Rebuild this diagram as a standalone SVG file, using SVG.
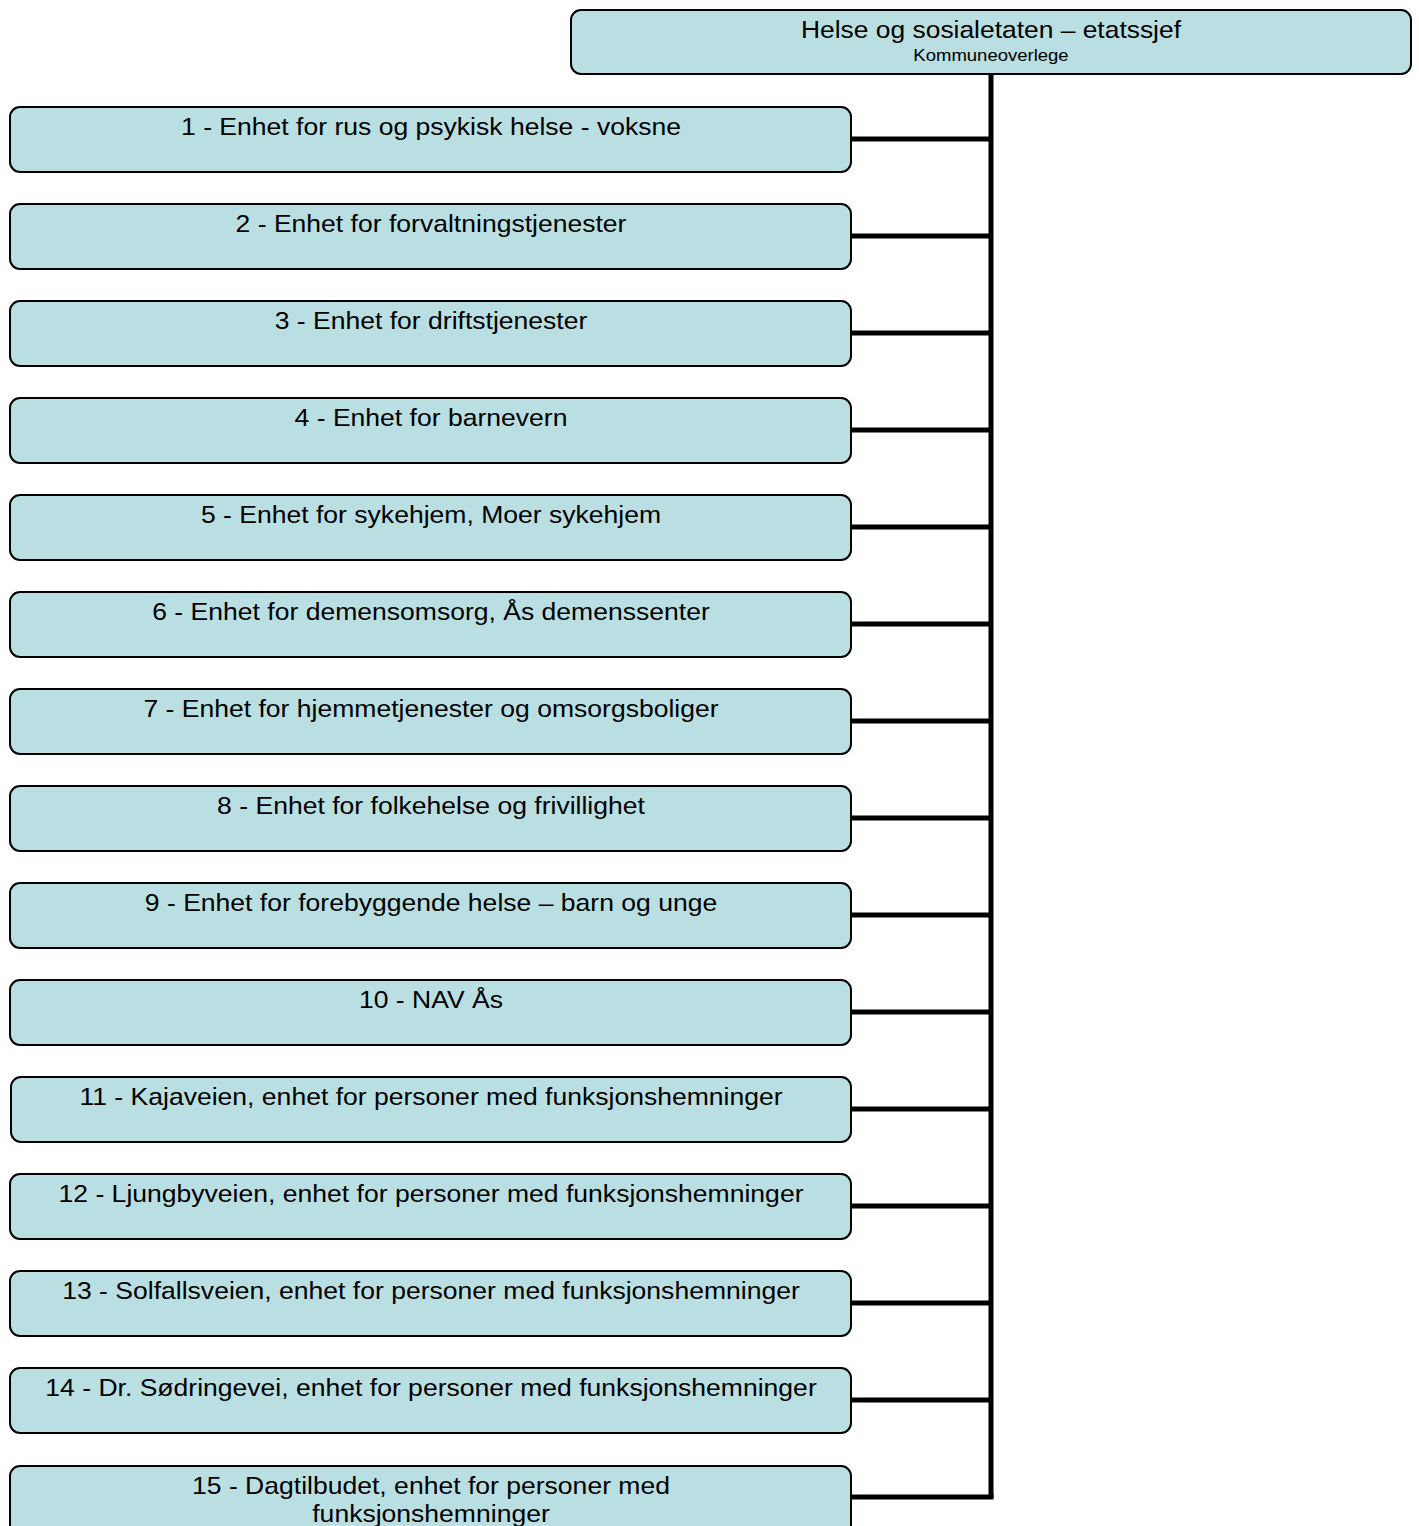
<svg xmlns="http://www.w3.org/2000/svg" width="1419" height="1526" viewBox="0 0 1419 1526">
<style>
.box{fill:#BADFE2;stroke:#000;stroke-width:2}
.t{font-family:"Liberation Sans",Arial,sans-serif;font-size:24px;fill:#000;text-anchor:middle}
.s{font-family:"Liberation Sans",Arial,sans-serif;font-size:16px;fill:#000;text-anchor:middle}
.c{fill:none;stroke:#000;stroke-width:5}
</style>
<rect width="1419" height="1526" fill="#fff"/>
<g id="connectors">
<path class="c" d="M991 75V1498"/>
<path class="c" d="M851 139H991M851 236H991M851 333H991M851 430H991M851 527H991M851 624H991M851 721H991M851 818H991M851 915H991M851 1012H991M851 1109H991M851 1206H991M851 1303H991M851 1400H991M851 1497H993.5"/>
</g>
<g id="top"><rect class="box" x="571" y="10" width="840" height="64" rx="10"/><g transform="translate(991 0) scale(1.1 1)"><text class="t" x="0" y="38">Helse og sosialetaten – etatssjef</text></g><g transform="translate(991 0) scale(1.157 1)"><text class="s" x="0" y="61">Kommuneoverlege</text></g></g>
<g id="n1"><rect class="box" x="10" y="107" width="841" height="65" rx="10"/><g transform="translate(431 0) scale(1.106 1)"><text class="t" x="0" y="135">1 - Enhet for rus og psykisk helse - voksne</text></g></g>
<g id="n2"><rect class="box" x="10" y="204" width="841" height="65" rx="10"/><g transform="translate(431 0) scale(1.106 1)"><text class="t" x="0" y="232">2 - Enhet for forvaltningstjenester</text></g></g>
<g id="n3"><rect class="box" x="10" y="301" width="841" height="65" rx="10"/><g transform="translate(431 0) scale(1.106 1)"><text class="t" x="0" y="329">3 - Enhet for driftstjenester</text></g></g>
<g id="n4"><rect class="box" x="10" y="398" width="841" height="65" rx="10"/><g transform="translate(431 0) scale(1.106 1)"><text class="t" x="0" y="426">4 - Enhet for barnevern</text></g></g>
<g id="n5"><rect class="box" x="10" y="495" width="841" height="65" rx="10"/><g transform="translate(431 0) scale(1.106 1)"><text class="t" x="0" y="523">5 - Enhet for sykehjem, Moer sykehjem</text></g></g>
<g id="n6"><rect class="box" x="10" y="592" width="841" height="65" rx="10"/><g transform="translate(431 0) scale(1.106 1)"><text class="t" x="0" y="620">6 - Enhet for demensomsorg, Ås demenssenter</text></g></g>
<g id="n7"><rect class="box" x="10" y="689" width="841" height="65" rx="10"/><g transform="translate(431 0) scale(1.106 1)"><text class="t" x="0" y="717">7 - Enhet for hjemmetjenester og omsorgsboliger</text></g></g>
<g id="n8"><rect class="box" x="10" y="786" width="841" height="65" rx="10"/><g transform="translate(431 0) scale(1.106 1)"><text class="t" x="0" y="814">8 - Enhet for folkehelse og frivillighet</text></g></g>
<g id="n9"><rect class="box" x="10" y="883" width="841" height="65" rx="10"/><g transform="translate(431 0) scale(1.106 1)"><text class="t" x="0" y="911">9 - Enhet for forebyggende helse – barn og unge</text></g></g>
<g id="n10"><rect class="box" x="10" y="980" width="841" height="65" rx="10"/><g transform="translate(431 0) scale(1.106 1)"><text class="t" x="0" y="1008">10 - NAV Ås</text></g></g>
<g id="n11"><rect class="box" x="11" y="1077" width="840" height="65" rx="10"/><g transform="translate(431 0) scale(1.106 1)"><text class="t" x="0" y="1105">11 - Kajaveien, enhet for personer med funksjonshemninger</text></g></g>
<g id="n12"><rect class="box" x="10" y="1174" width="841" height="65" rx="10"/><g transform="translate(431 0) scale(1.106 1)"><text class="t" x="0" y="1202">12 - Ljungbyveien, enhet for personer med funksjonshemninger</text></g></g>
<g id="n13"><rect class="box" x="10" y="1271" width="841" height="65" rx="10"/><g transform="translate(431 0) scale(1.106 1)"><text class="t" x="0" y="1299">13 - Solfallsveien, enhet for personer med funksjonshemninger</text></g></g>
<g id="n14"><rect class="box" x="10" y="1368" width="841" height="65" rx="10"/><g transform="translate(431 0) scale(1.106 1)"><text class="t" x="0" y="1396">14 - Dr. Sødringevei, enhet for personer med funksjonshemninger</text></g></g>
<g id="n15"><rect class="box" x="10" y="1466" width="841" height="80" rx="10"/><g transform="translate(431 0) scale(1.106 1)"><text class="t" x="0" y="1494">15 - Dagtilbudet, enhet for personer med</text><text class="t" x="0" y="1522">funksjonshemninger</text></g></g>
</svg>
